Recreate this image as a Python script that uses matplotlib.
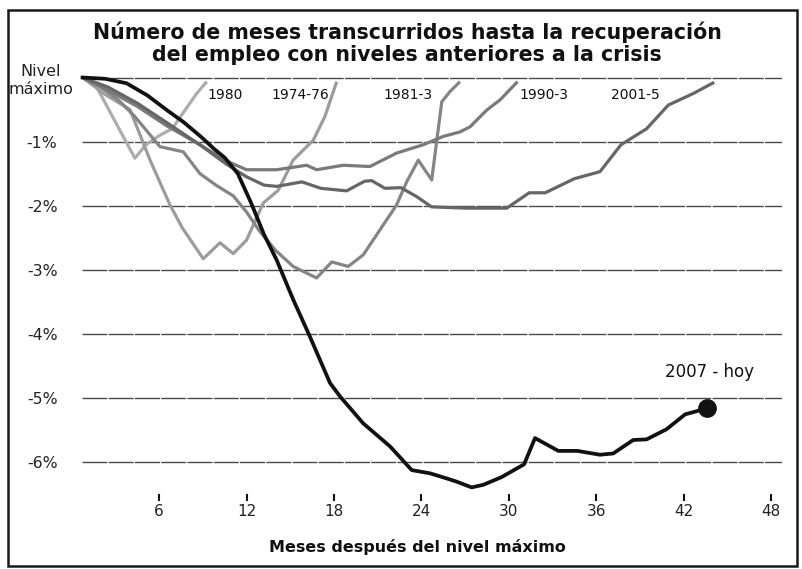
import matplotlib
matplotlib.use("Agg")
import matplotlib.pyplot as plt
from matplotlib.patches import Rectangle

plt.rcParams['font.family'] = ['DejaVu Sans']

# ---- data (months after peak, % change from peak employment) ----
m_1980 = [0.75, 1.6, 4.34, 5.1, 6.06, 6.9, 7.55, 8.58, 9.27]
v_1980 = [0.0, -0.10, -1.26, -1.05, -0.90, -0.80, -0.585, -0.25, -0.065]

m_1974 = [0.75, 2.2, 4.0, 5.4, 6.75, 7.6, 9.03, 10.18, 11.09, 12.0, 13.15,
          14.18, 15.2, 16.58, 17.38, 18.19]
v_1974 = [0.0, -0.25, -0.50, -1.30, -1.99, -2.35, -2.83, -2.58, -2.75, -2.54,
          -1.96, -1.76, -1.29, -0.98, -0.61, -0.065]

m_1981 = [0.75, 2.0, 3.2, 4.3, 6.06, 7.66, 8.8, 9.9, 11.1, 12.0, 12.9, 14.0,
          15.2, 16.81, 17.85, 18.98, 20.01, 21.39, 22.3, 22.99, 23.79, 24.71,
          25.4, 25.96, 26.65]
v_1981 = [0.0, -0.15, -0.35, -0.60, -1.08, -1.16, -1.50, -1.68, -1.85, -2.10,
          -2.40, -2.70, -2.95, -3.13, -2.88, -2.95, -2.77, -2.30, -1.99, -1.63,
          -1.29, -1.60, -0.38, -0.22, -0.065]

m_1990 = [0.75, 2.5, 4.5, 6.5, 8.8, 10.6, 12.0, 14.07, 16.13, 16.81, 18.64,
          20.47, 22.3, 24.13, 25.5, 26.65, 27.34, 28.48, 29.4, 30.6]
v_1990 = [0.0, -0.20, -0.45, -0.75, -1.05, -1.30, -1.44, -1.44, -1.37, -1.44,
          -1.37, -1.39, -1.18, -1.05, -0.92, -0.85, -0.77, -0.51, -0.35, -0.065]

m_2001 = [0.75, 2.5, 4.5, 6.5, 8.8, 10.6, 12.0, 13.2, 14.07, 15.8, 17.1,
          18.87, 20.1, 20.59, 21.5, 22.6, 23.68, 24.7, 27.11, 29.86, 31.4,
          32.5, 34.5, 36.26, 37.7, 39.46, 40.95, 42.66, 44.1]
v_2001 = [0.0, -0.15, -0.40, -0.70, -1.05, -1.35, -1.55, -1.68, -1.70, -1.63,
          -1.73, -1.77, -1.62, -1.61, -1.73, -1.72, -1.86, -2.02, -2.04, -2.04,
          -1.80, -1.80, -1.58, -1.47, -1.05, -0.80, -0.43, -0.25, -0.075]

m_2007 = [0.75, 2.3, 3.77, 5.2, 6.6, 7.7, 8.9, 9.8, 10.5, 11.4, 12.3, 13.2,
          14.07, 15.21, 16.36, 17.73, 18.42, 20.01, 21.85, 23.34, 24.59, 25.74,
          26.42, 27.45, 28.25, 29.5, 31.05, 31.8, 33.4, 34.7, 36.26, 37.17,
          38.54, 39.46, 40.84, 42.1, 42.9, 43.58]
v_2007 = [0.0, -0.02, -0.09, -0.28, -0.52, -0.70, -0.93, -1.12, -1.25, -1.50,
          -1.95, -2.45, -2.85, -3.47, -4.05, -4.77, -4.98, -5.40, -5.76, -6.13,
          -6.18, -6.26, -6.31, -6.40, -6.36, -6.24, -6.04, -5.63, -5.83, -5.83,
          -5.89, -5.87, -5.66, -5.65, -5.49, -5.26, -5.21, -5.16]

series_labels = ["1980", "1974-76", "1981-3", "1990-3", "2001-5"]
label_x = [10.53, 15.67, 23.08, 32.4, 38.66]
yticks = [0, -1, -2, -3, -4, -5, -6]
ytick_labels = ["", "-1%", "-2%", "-3%", "-4%", "-5%", "-6%"]
xticks = [6, 12, 18, 24, 30, 36, 42, 48]

W, H = 803, 569
fig = plt.figure(figsize=(W / 100, H / 100), dpi=100)
fig.patch.set_facecolor('white')

# outer frame
fig.add_artist(Rectangle((8 / W, 1 - 566 / H), (797 - 8) / W, (566 - 10) / H,
                         transform=fig.transFigure, fill=False,
                         edgecolor='#1a1a1a', linewidth=1.8))

ax_l, ax_r = 81.7, 781.7
ax_t, ax_b = 71.1, 493.8
ax = fig.add_axes([ax_l / W, 1 - ax_b / H, (ax_r - ax_l) / W, (ax_b - ax_t) / H])
ax.set_xlim(0.69, 48.73)
ax.set_ylim(-6.5, 0.1)
for s in ax.spines.values():
    s.set_visible(False)

# gridlines
for yv in yticks:
    ax.axhline(yv, color='#4a4a4a', linewidth=1.0, dashes=(18, 0.9), zorder=1)

colors = ['#adadad', '#9c9c9c', '#858585', '#7a7a7a', '#666666']
datasets = [(m_1980, v_1980), (m_1974, v_1974), (m_1981, v_1981),
            (m_1990, v_1990), (m_2001, v_2001)]
for (mx, vy), c in zip(datasets, colors):
    ax.plot(mx, vy, color=c, linewidth=2.3, solid_capstyle='butt',
            solid_joinstyle='round', zorder=2, clip_on=False)

ax.plot(m_2007, v_2007, color='#111111', linewidth=2.7,
        solid_joinstyle='round', zorder=4, clip_on=False)
ax.plot([m_2007[-1]], [v_2007[-1]], 'o', color='#111111', markersize=12.5,
        zorder=5, clip_on=False)

for lab, lx in zip(series_labels, label_x):
    ax.text(lx, -0.27, lab, ha='center', va='center', fontsize=10,
            color='#111111', zorder=6)
ax.text(43.8, -4.6, "2007 - hoy", ha='center', va='center', fontsize=12,
        color='#111111')

# axes ticks
ax.set_yticks(yticks)
ax.set_yticklabels(ytick_labels, fontsize=11.3, color='#222222')
ax.tick_params(axis='y', length=0, pad=17.5)
ax.set_xticks(xticks)
ax.set_xticklabels([str(t) for t in xticks], fontsize=11, color='#222222')
ax.tick_params(axis='x', direction='out', length=5, width=1.5, color='#111111',
               pad=2.5)

fig.text(41 / W, 1 - 80 / H, "Nivel\nmáximo", ha='center', va='center',
         fontsize=11.5, color='#222222', linespacing=1.25)

fig.text(407 / W, 1 - 43.5 / H,
         "Número de meses transcurridos hasta la recuperación\n"
         "del empleo con niveles anteriores a la crisis",
         ha='center', va='center', fontsize=14.8, fontweight='bold',
         color='#111111', linespacing=1.1)

fig.text(417 / W, 1 - 546.7 / H, "Meses después del nivel máximo",
         ha='center', va='center', fontsize=11.5, fontweight='bold',
         color='#111111')

fig.savefig("out.png", dpi=100, facecolor='white')
